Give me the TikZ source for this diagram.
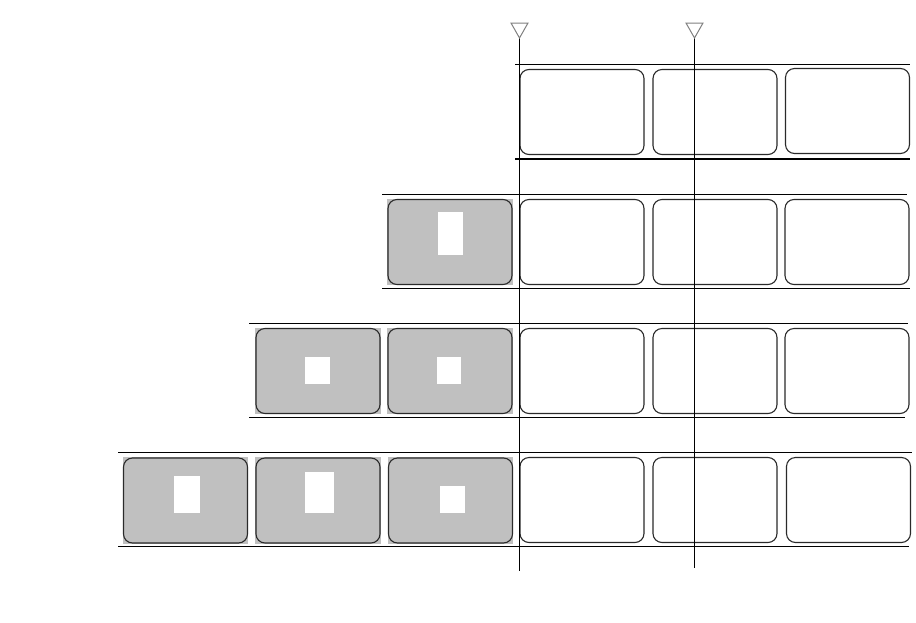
\documentclass[tikz,border=0pt]{standalone}
\usetikzlibrary{backgrounds}
\definecolor{boxgray}{HTML}{C0C0C0}
\definecolor{edgecol}{HTML}{2A2A2A}
\definecolor{markgray}{HTML}{808080}
\begin{document}
\begin{tikzpicture}[x=1pt,y=-1pt,
  cell/.style={draw=edgecol,line width=1.1pt,rounded corners=9pt,minimum width=124pt,minimum height=85pt,inner sep=0pt,outer sep=0pt},
  hole/.style={fill=white,inner sep=0pt,outer sep=0pt},
  rowline/.style={line width=1pt},
  axisline/.style={line width=1pt},
  marker/.style={draw=markgray,fill=white,line width=1pt}]
\useasboundingbox (0,0) rectangle (916,622);
% row lines
\draw[rowline] (515,64.5) -- (910,64.5);
\draw[line width=2pt] (515,158.5) -- (910,158.5);
\draw[rowline] (382,194.5) -- (907,194.5);
\draw[rowline] (382,288.5) -- (910,288.5);
\draw[rowline] (249,323.5) -- (908,323.5);
\draw[rowline] (249,417.5) -- (905,417.5);
\draw[rowline] (118,452.5) -- (912,452.5);
\draw[rowline] (118,546.5) -- (909,546.5);
% row 1
\node[cell] (a0) at (582,112) {};
\node[cell] (a1) at (715,112) {};
\node[cell] (a2) at (847.5,111) {};
% row 2
\node[cell] (b-1) at (450,242) {};
\node[cell] (b0) at (582,242) {};
\node[cell] (b1) at (715,242) {};
\node[cell] (b2) at (847,242) {};
% row 3
\node[cell] (c-2) at (318,371) {};
\node[cell] (c-1) at (450,371) {};
\node[cell] (c0) at (582,371) {};
\node[cell] (c1) at (715,371) {};
\node[cell] (c2) at (847,371) {};
% row 4
\node[cell] (d-3) at (185.5,500.5) {};
\node[cell] (d-2) at (318,500.5) {};
\node[cell] (d-1) at (450.5,500.5) {};
\node[cell] (d0) at (582,500) {};
\node[cell] (d1) at (715,500) {};
\node[cell] (d2) at (848.5,500) {};
% grey fills behind the shaded cells
\begin{scope}[on background layer]
\foreach \n in {b-1,c-2,c-1,d-3,d-2,d-1}
  \fill[boxgray] ([shift={(-0.8,-0.8)}]\n.north west) rectangle ([shift={(0.8,0.8)}]\n.south east);
\end{scope}
% white holes
\node[hole,minimum width=25pt,minimum height=43pt] (hb) at (450.5,233.5) {};
\node[hole,minimum width=25pt,minimum height=27pt] (hc2) at (317.5,370.5) {};
\node[hole,minimum width=24pt,minimum height=27pt] (hc1) at (449,370.5) {};
\node[hole,minimum width=26pt,minimum height=37pt] (hd3) at (187,494.5) {};
\node[hole,minimum width=29pt,minimum height=41pt] (hd2) at (319.5,492.5) {};
\node[hole,minimum width=25pt,minimum height=27pt] (hd1) at (452.5,499.5) {};
% vertical reference lines with markers
\coordinate (p1) at (519.5,38);
\coordinate (q1) at (519.5,571);
\coordinate (p2) at (694.5,38);
\coordinate (q2) at (694.5,568);
\draw[axisline] (p1) -- (q1);
\draw[axisline] (p2) -- (q2);
\draw[marker] (511,23) -- (528,23) -- (p1) -- cycle;
\draw[marker] (686,23) -- (703,23) -- (p2) -- cycle;
\end{tikzpicture}
\end{document}
